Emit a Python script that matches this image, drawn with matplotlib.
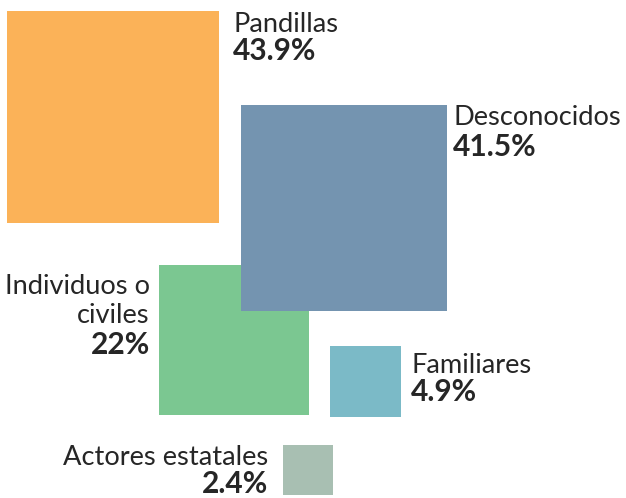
import numpy as np
import matplotlib.pyplot as plt

# Porcentaje de víctimas según el tipo de agresor
categorias = ["Pandillas", "Desconocidos", "Individuos o\nciviles", "Familiares", "Actores estatales"]
etiquetas = ["43.9%", "41.5%", "22%", "4.9%", "2.4%"]
valores = [43.9, 41.5, 22.0, 4.9, 2.4]
colores = ["#FBB258", "#7494B0", "#7BC791", "#7BBAC7", "#A8BFB2"]

# esquina superior izquierda de cada cuadrado (px) y orden de dibujo
esquinas = [(7, 11), (241, 105), (159, 265), (330, 346), (283, 445)]
orden = [2, 0, 1, 3, 4]
escala = 212 / np.sqrt(43.9)  # lado en px por raiz de porcentaje

fig = plt.figure(figsize=(6.26, 4.98), dpi=100)
ax = fig.add_axes([0, 0, 1, 1])
ax.set_xlim(0, 626)
ax.set_ylim(498, 0)
ax.axis("off")

for z, i in enumerate(orden):
    lado = escala * np.sqrt(valores[i])
    x, y = esquinas[i]
    ax.bar(x, lado, width=lado, bottom=y, align="edge", color=colores[i],
           linewidth=0, zorder=z + 1)

fam = "Lato"
col_txt = "#262626"

# etiquetas: x, alineacion y linea base de cada renglon (px)
textos = [(233, "left", [32, 60]), (453, "left", [125, 156]),
          (150, "right", [294, 323, 354]), (411, "left", [373, 401]),
          (268, "right", [465, 493])]
for i, (tx, ha, bases) in enumerate(textos):
    for linea, yb in zip(categorias[i].split("\n"), bases[:-1]):
        ax.text(tx, yb, linea, ha=ha, va="baseline", fontsize=19.6,
                family=fam, weight="normal", color=col_txt)
    ax.text(tx, bases[-1], etiquetas[i], ha=ha, va="baseline", fontsize=21.5,
            family=fam, weight="bold", color=col_txt)

fig.savefig("out.png", dpi=100)
